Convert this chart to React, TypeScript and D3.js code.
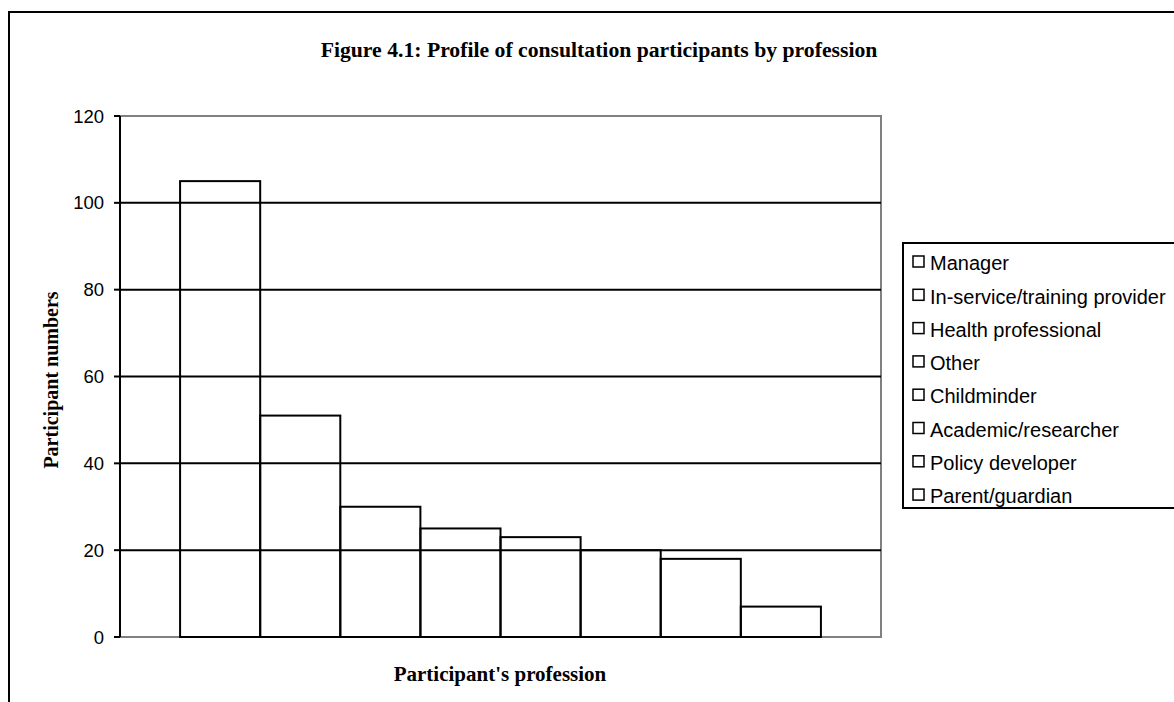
import React from "react";
import * as d3 from "d3";

const categories = [
  "Manager",
  "In-service/training provider",
  "Health professional",
  "Other",
  "Childminder",
  "Academic/researcher",
  "Policy developer",
  "Parent/guardian",
];
const values = [105, 51, 30, 25, 23, 20, 18, 7];
const yTicks = [0, 20, 40, 60, 80, 100, 120];

const W = 1174;
const H = 702;
const plot = { left: 120, right: 881, top: 116, bottom: 637 };

export default function App() {
  const y = d3.scaleLinear().domain([0, 120]).range([plot.bottom, plot.top]);
  const barW = (plot.right - plot.left) / (categories.length + 1.5);
  const x = d3
    .scaleBand<string>()
    .domain(categories)
    .range([plot.left + barW * 0.75, plot.right - barW * 0.75])
    .padding(0);

  const legendTop = 243;
  const legendStep = 33.3;
  const legend = d3
    .scalePoint<string>()
    .domain(categories)
    .range([legendTop + 20, legendTop + 20 + legendStep * (categories.length - 1)]);

  const serif = "'Liberation Serif', 'Times New Roman', serif";
  const sans = "'Liberation Sans', Arial, sans-serif";

  return (
    <svg
      width={W}
      height={H}
      style={{ position: "absolute", left: 0, top: 0, background: "#fff" }}
    >
      <rect x={9} y={12} width={W + 20} height={H + 20} fill="#fff" stroke="#000" strokeWidth={2} />
      <text
        x={599}
        y={57}
        textAnchor="middle"
        fontFamily={serif}
        fontWeight="bold"
        fontSize={21.7}
      >
        Figure 4.1: Profile of consultation participants by profession
      </text>

      {/* plot border */}
      <rect
        x={plot.left}
        y={plot.top}
        width={plot.right - plot.left}
        height={plot.bottom - plot.top}
        fill="none"
        stroke="#808080"
        strokeWidth={2}
      />
      {/* gridlines */}
      {yTicks
        .filter((t) => t > 0 && t < 120)
        .map((t) => (
          <line
            key={t}
            x1={plot.left}
            x2={plot.right}
            y1={y(t)}
            y2={y(t)}
            stroke="#000"
            strokeWidth={2}
          />
        ))}
      {/* bars */}
      {categories.map((c, i) => (
        <rect
          key={c}
          x={x(c)}
          y={y(values[i])}
          width={x.bandwidth()}
          height={y(0) - y(values[i])}
          fill="#fff"
          fillOpacity={0}
          stroke="#000"
          strokeWidth={2}
        />
      ))}
      {/* y axis */}
      <line x1={plot.left} x2={plot.left} y1={plot.top} y2={plot.bottom} stroke="#000" strokeWidth={2} />
      {yTicks.map((t) => (
        <g key={t}>
          <line x1={plot.left - 6} x2={plot.left} y1={y(t)} y2={y(t)} stroke="#000" strokeWidth={2} />
          <text
            x={104}
            y={y(t)}
            dy="0.36em"
            textAnchor="end"
            fontFamily={sans}
            fontSize={18.5}
          >
            {t}
          </text>
        </g>
      ))}
      <text
        transform={`translate(58,${380}) rotate(-90)`}
        textAnchor="middle"
        fontFamily={serif}
        fontWeight="bold"
        fontSize={20}
      >
        Participant numbers
      </text>
      <text
        x={500}
        y={681}
        textAnchor="middle"
        fontFamily={serif}
        fontWeight="bold"
        fontSize={21}
      >
        Participant's profession
      </text>

      {/* legend */}
      <rect x={903} y={legendTop} width={300} height={265} fill="#fff" stroke="#000" strokeWidth={2} />
      {categories.map((c) => (
        <g key={c} transform={`translate(0,${legend(c)})`}>
          <rect x={913} y={-7} width={11} height={11} fill="#fff" stroke="#000" strokeWidth={1.5} />
          <text x={930} y={0} dy="0.36em" fontFamily={sans} fontSize={20}>
            {c}
          </text>
        </g>
      ))}
    </svg>
  );
}
